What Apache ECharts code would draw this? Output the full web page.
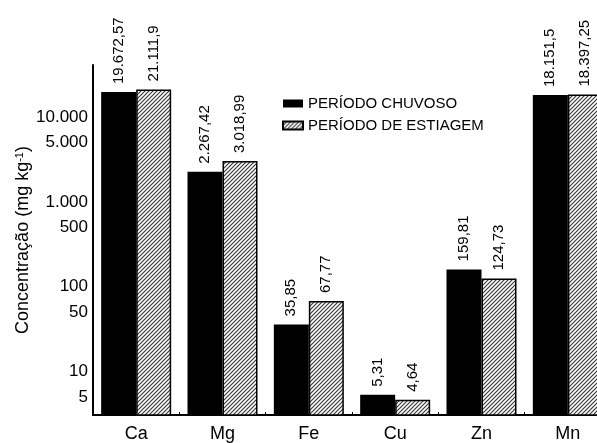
<!DOCTYPE html>
<html>
<head>
<meta charset="utf-8">
<script src="https://cdn.jsdelivr.net/npm/echarts@6/dist/echarts.min.js"></script>
<style>
	html, body { margin: 0; padding: 0; background: #fff; }
	#chart { width: 597px; height: 443px; }
</style>
</head>
<body>
<div id="chart"></div>
<script>
var categories = ['Ca', 'Mg', 'Fe', 'Cu', 'Zn', 'Mn']
var chuvoso = [19672.57, 2267.42, 35.85, 5.31, 159.81, 18151.5]
var estiagem = [21111.9, 3018.99, 67.77, 4.64, 124.73, 18397.25]
var yTicks = [5, 10, 50, 100, 500, 1000, 5000, 10000]

// pt-BR style number: 19.672,57
function fmt(v) {
	var parts = String(v).split('.')
	var int = parts[0].replace(/\B(?=(\d{3})+(?!\d))/g, '.')
	return parts[1] ? int + ',' + parts[1] : int
}

// diagonal hatch
function hatch() {
	var c = document.createElement('canvas')
	c.width = 4
	c.height = 4
	var ctx = c.getContext('2d')
	ctx.fillStyle = '#fff'
	ctx.fillRect(0, 0, 4, 4)
	ctx.strokeStyle = '#3a3a3a'
	ctx.lineWidth = 1.2
	ctx.beginPath()
	ctx.moveTo(-1, 5)
	ctx.lineTo(5, -1)
	ctx.moveTo(-1, 1)
	ctx.lineTo(1, -1)
	ctx.moveTo(3, 5)
	ctx.lineTo(5, 3)
	ctx.stroke()
	return c
}

var font = 'Liberation Sans'
var barLabel = {
	show: true,
	position: 'top',
	rotate: 90,
	align: 'left',
	verticalAlign: 'middle',
	distance: 8,
	fontFamily: font,
	fontSize: 15,
	color: '#000',
	formatter: function (p) {
		return fmt(p.value)
	}
}

var myChart = echarts.init(document.getElementById('chart'))
myChart.setOption({
	animation: false,
	textStyle: { fontFamily: font },
	grid: {
		left: 93,
		right: -14,
		top: 65,
		bottom: 28,
		outerBoundsMode: 'none'
	},
	legend: {
		data: ['PERÍODO CHUVOSO', 'PERÍODO DE ESTIAGEM'],
		orient: 'vertical',
		left: 282,
		top: 96,
		padding: 0,
		itemWidth: 20,
		itemHeight: 8,
		itemGap: 7,
		icon: 'rect',
		textStyle: { fontFamily: font, fontSize: 15, color: '#000' }
	},
	xAxis: {
		type: 'category',
		data: categories,
		axisLine: { lineStyle: { color: '#000', width: 2 } },
		axisTick: { show: true, inside: true, length: 3, lineStyle: { color: '#000' } },
		axisLabel: { color: '#000', fontFamily: font, fontSize: 18, margin: 10 }
	},
	yAxis: {
		type: 'log',
		logBase: 10,
		min: 3.07,
		max: 41000,
		name: '{a|Concentração (mg kg}{b|-1}{a|)}',
		nameLocation: 'middle',
		nameGap: 61,
		nameMoveOverlap: false,
		nameTextStyle: {
			rich: {
				a: { fontFamily: font, fontSize: 18, color: '#000' },
				b: { fontFamily: font, fontSize: 11, color: '#000', verticalAlign: 'top' }
			}
		},
		axisLine: { show: true, lineStyle: { color: '#000', width: 2 } },
		axisTick: { show: false },
		splitLine: { show: false },
		minorSplitLine: { show: false },
		axisLabel: {
			customValues: yTicks,
			color: '#000',
			fontFamily: font,
			fontSize: 17,
			margin: 5,
			formatter: function (v) {
				return fmt(v)
			}
		}
	},
	series: [
		{
			name: 'PERÍODO CHUVOSO',
			type: 'bar',
			barWidth: 35,
			barGap: '0%',
			data: chuvoso,
			itemStyle: { color: '#000' },
			label: barLabel
		},
		{
			name: 'PERÍODO DE ESTIAGEM',
			type: 'bar',
			barWidth: 35,
			barGap: '0%',
			data: estiagem,
			itemStyle: {
				color: { image: hatch(), repeat: 'repeat' },
				borderColor: '#000',
				borderWidth: 1.5
			},
			label: barLabel
		}
	]
})
</script>
</body>
</html>
